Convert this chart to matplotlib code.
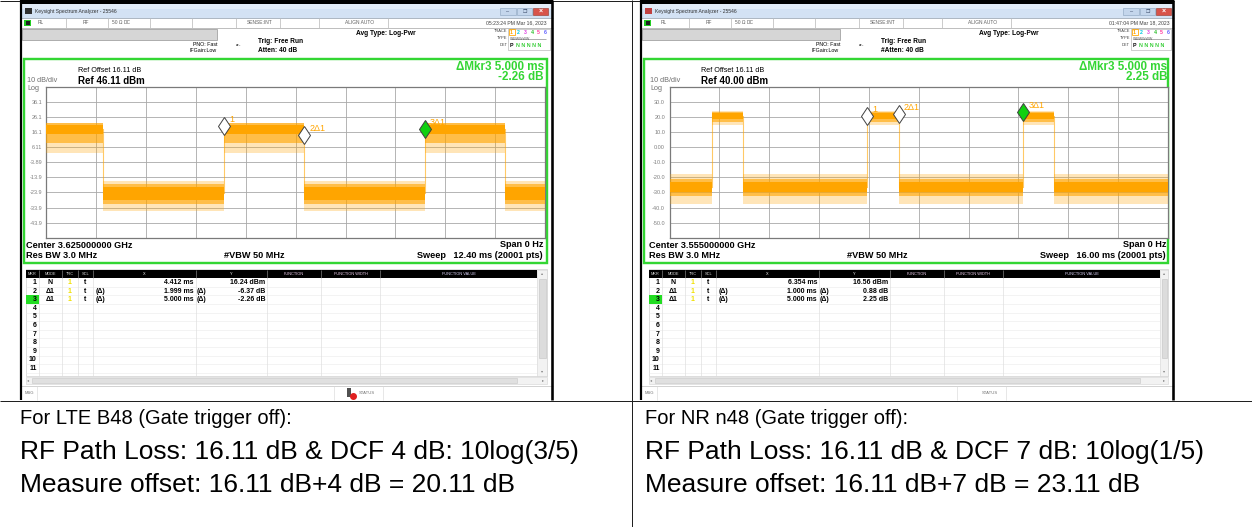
import matplotlib
matplotlib.use("Agg")
import matplotlib.pyplot as plt
from matplotlib.patches import Rectangle
import matplotlib.transforms as mtransforms

plt.rcParams['font.family'] = ['Liberation Sans', 'DejaVu Sans']

W, H, DPI = 1252, 527, 100
ORANGE = '#ffa500'
GREEN = '#33d633'

# ---------------- data ----------------
# LTE B48 capture
lte_ref = 46.11
lte_ytick_labels = ["36.1", "26.1", "16.1", "6.11", "-3.89", "-13.9", "-23.9", "-33.9", "-43.9"]
lte_sweep_ms = 12.40
lte_edges_ms = [0.0, 1.412, 4.412, 6.411, 9.412, 11.412, 12.40]
lte_states = ["H", "L", "H", "L", "H", "L"]
# noise envelopes (dB): dense core, mid band, outer spikes
lte_high_env = [(15.0, 21.0), (9.0, 22.0), (2.0, 22.5)]
lte_low_env = [(-29.0, -20.0), (-31.5, -18.0), (-36.0, -16.5)]
lte_mkr_labels = ["1", "2Δ1", "3Δ1"]
lte_mkr_x_ms = [4.412, 6.411, 9.412]
lte_mkr_y_db = [16.24, 9.87, 13.98]
lte_table = [("1", "N", "", "4.412 ms", "", "16.24 dBm"),
             ("2", "Δ1", "(Δ)", "1.999 ms", "(Δ)", "-6.37 dB"),
             ("3", "Δ1", "(Δ)", "5.000 ms", "(Δ)", "-2.26 dB")]

# NR n48 capture
nr_ref = 40.00
nr_ytick_labels = ["30.0", "20.0", "10.0", "0.00", "-10.0", "-20.0", "-30.0", "-40.0", "-50.0"]
nr_sweep_ms = 16.00
nr_edges_ms = [0.0, 1.354, 2.354, 6.354, 7.354, 11.354, 12.354, 16.0]
nr_states = ["L", "H", "L", "H", "L", "H", "L"]
nr_high_env = [(18.5, 22.8), (16.5, 23.5), (14.5, 24.0)]
nr_low_env = [(-30.0, -23.0), (-32.0, -21.0), (-37.5, -18.0)]
nr_mkr_labels = ["1", "2Δ1", "3Δ1"]
nr_mkr_x_ms = [6.354, 7.354, 11.354]
nr_mkr_y_db = [16.56, 17.44, 18.81]
nr_table = [("1", "N", "", "6.354 ms", "", "16.56 dBm"),
            ("2", "Δ1", "(Δ)", "1.000 ms", "(Δ)", "0.88 dB"),
            ("3", "Δ1", "(Δ)", "5.000 ms", "(Δ)", "2.25 dB")]

lte_notes = ["For LTE B48 (Gate trigger off):",
             "RF Path Loss: 16.11 dB & DCF 4 dB: 10log(3/5)",
             "Measure offset: 16.11 dB+4 dB = 20.11 dB"]
nr_notes = ["For NR n48 (Gate trigger off):",
            "RF Path Loss: 16.11 dB & DCF 7 dB: 10log(1/5)",
            "Measure offset: 16.11 dB+7 dB = 23.11 dB"]

table_headers = ["MKR", "MODE", "TRC", "SCL", "X", "Y", "FUNCTION", "FUNCTION WIDTH", "FUNCTION VALUE"]
trace_nums = ["1", "2", "3", "4", "5", "6"]
trace_cols = ['#ffa500', '#00c8e0', '#e040e0', '#30c030', '#ff40a0', '#6060ff']

# ---------------- figure ----------------
fig = plt.figure(figsize=(W / DPI, H / DPI), dpi=DPI)
bg = fig.add_axes([0, 0, 1, 1])
bg.set_xlim(0, W)
bg.set_ylim(H, 0)
bg.axis('off')

PX = 0.72  # points per pixel


def rect(x0, y0, x1, y1, fc='none', ec='none', lw=0, z=1):
    bg.add_patch(Rectangle((x0, y0), x1 - x0, y1 - y0, facecolor=fc, edgecolor=ec,
                           linewidth=lw * PX, zorder=z))


def line(x0, y0, x1, y1, color='black', lw=1, z=2):
    bg.plot([x0, x1], [y0, y1], color=color, lw=lw * PX, zorder=z, solid_capstyle='butt')


def txt(x, y, s, size, color='black', weight='normal', ha='left', va='center', z=5, **kw):
    bg.text(x, y, s, fontsize=size, color=color, fontweight=weight, ha=ha, va=va, zorder=z, **kw)


def panel(dx, fx0, fx1, ref, ylabels, sweep, edges, states, henv, lenv,
          mlabels, mx, my, table, date, atten, icon_col, center, delta_db, status_icon):
    # screenshot frame
    rect(fx0, 0, fx1, 400, fc='white', z=0)
    # title bar
    rect(fx0, 4, fx1, 17.5, fc='#d3e2f4', z=1)
    rect(fx0, 4, fx1, 9, fc='#e2ecf8', z=1)
    rect(fx0 + 5, 7.5, fx0 + 12, 14, fc=icon_col, z=2)
    txt(fx0 + 15, 11, "Keysight Spectrum Analyzer - 25546", 3.6, color='#303030')
    rect(500 + dx, 8, 516 + dx, 15, fc='#c4d6ec', ec='#8fa6c2', lw=0.6, z=2)
    txt(508 + dx, 11.5, "–", 4, color='#304060', ha='center')
    rect(517 + dx, 8, 532 + dx, 15, fc='#c4d6ec', ec='#8fa6c2', lw=0.6, z=2)
    txt(524.5 + dx, 11.5, "❐", 3.5, color='#304060', ha='center', family='DejaVu Sans')
    rect(533 + dx, 8, 548 + dx, 15, fc='#d8534a', ec='#9a3a30', lw=0.6, z=2)
    txt(540.5 + dx, 11.5, "×", 5, color='white', ha='center', weight='bold')
    # status row
    line(fx0, 17.8, fx1, 17.8, '#9aa6b4', 0.8)
    line(fx0, 27.6, fx1, 27.6, '#b0b0b0', 0.8)
    rect(fx0 + 4, 19.5, fx0 + 11, 26, fc='#22cc22', z=2)
    rect(fx0 + 5.5, 21, fx0 + 9.5, 24.5, fc='#202020', z=3)
    for sx in [66, 108, 150, 192, 236, 280, 319, 388]:
        line(sx + dx, 18, sx + dx, 27.5, '#c0c0c0', 0.8)
    for sx, s in [(38, "RL"), (83, "RF"), (112, "50 Ω"), (124, "DC"), (247, "SENSE:INT"), (345, "ALIGN AUTO")]:
        txt(sx + dx, 23, s, 3.5, color='#606060')
    txt(547 + dx, 23, date, 3.7, color='#404040', ha='right')
    # header area
    rect(fx0 + 2, 28.5, 217 + dx, 39.5, fc='#d6d6d6', ec='#a0a0a0', lw=0.8, z=2)
    txt(193 + dx, 44.5, "PNO: Fast", 3.8)
    txt(189 + dx, 51, "IFGain:Low", 3.8)
    txt(239 + dx, 44.5, "-▸-", 3.2, ha='center', family='DejaVu Sans')
    txt(258 + dx, 41.5, "Trig: Free Run", 4.8, weight='bold')
    txt(258 + dx, 50, atten, 4.8, weight='bold')
    txt(356 + dx, 33.5, "Avg Type: Log-Pwr", 4.8, weight='bold')
    for yy, s in [(30.5, "TRACE"), (38, "TYPE"), (45.5, "DET")]:
        txt(507 + dx, yy, s, 2.9, color='#404040', ha='right')
    rect(508 + dx, 28.5, fx1 - 3, 49.5, ec='#b0b0b0', lw=0.6, z=2)
    rect(508.5 + dx, 29, 514.5 + dx, 35, ec=ORANGE, lw=0.8, z=3)
    for k, (n, c) in enumerate(zip(trace_nums, trace_cols)):
        txt(511.5 + dx + k * 6.8, 32, n, 3.8, color=c, ha='center', weight='bold')
    txt(510 + dx, 38.5, "WWWWWW", 2.6, color='#606060')
    line(510 + dx, 38.5, 546 + dx, 38.5, '#606060', 0.5)
    txt(509.5 + dx, 45.5, "P", 3.8, weight='bold')
    txt(516 + dx, 45.5, "N N N N N", 3.8, color='#30cc30', weight='bold')

    # green display frame
    rect(fx0 + 3.5, 58.5, fx1 - 6, 263, fc='white', ec=GREEN, lw=2.4, z=1)
    txt(78 + dx, 71, "Ref Offset 16.11 dB", 5.2)
    txt(78 + dx, 81, "Ref %.2f dBm" % ref, 7, weight='bold')
    txt(27 + dx, 81, "10 dB/div", 5.2, color='#707070')
    txt(27 + dx, 88, "Log", 5.2, color='#707070')
    txt(544 + dx, 66.5, "ΔMkr3 5.000 ms", 8.4, color=GREEN, weight='bold', ha='right')
    txt(544 + dx, 77.5, delta_db, 8.4, color=GREEN, weight='bold', ha='right')
    txt(26 + dx, 245, "Center " + center, 6.6, weight='bold')
    txt(26 + dx, 255.8, "Res BW 3.0 MHz", 6.6, weight='bold')
    txt(224 + dx, 255.8, "#VBW 50 MHz", 6.6, weight='bold')
    txt(543 + dx, 244.5, "Span 0 Hz", 6.6, weight='bold', ha='right')
    txt(543 + dx, 256, "Sweep   %.2f ms (20001 pts)" % sweep, 6.6, weight='bold', ha='right')

    # trace axes
    ax = fig.add_axes([(46.5 + dx) / W, 1 - 237.7 / H, 498.5 / W, 150.7 / H])
    ax.set_xlim(0, sweep)
    ax.set_ylim(ref - 100, ref)
    ax.set_xticks([sweep * i / 10 for i in range(1, 10)])
    ax.set_yticks([ref - 10 * i for i in range(1, 10)])
    ax.set_yticklabels(ylabels)
    ax.tick_params(axis='x', length=0, labelbottom=False)
    ax.tick_params(axis='y', length=0, pad=3.2, labelsize=4, labelcolor='#808080')
    ax.grid(True, color='#a8a8a8', lw=0.6)
    ax.set_axisbelow(True)
    for sp in ax.spines.values():
        sp.set_color('#7a7a7a')
        sp.set_linewidth(0.9)
    alphas = [1.0, 0.6, 0.28]
    for i, st in enumerate(states):
        t0, t1 = edges[i], edges[i + 1]
        env = henv if st == "H" else lenv
        for (lo, hi), a in zip(env[::-1], alphas[::-1]):
            ax.fill_between([t0, t1], lo, hi, color=ORANGE, alpha=a, lw=0, zorder=3)
    lmid = (lenv[0][0] + lenv[0][1]) / 2
    hmid = (henv[0][0] + henv[0][1]) / 2
    for e in edges[1:-1]:
        ax.plot([e, e], [lmid, hmid], color=ORANGE, alpha=0.6, lw=0.8, zorder=3)
    up = ax.transData + mtransforms.ScaledTranslation(0, 6.5 / DPI, fig.dpi_scale_trans)
    for k, (lab, x, y) in enumerate(zip(mlabels, mx, my)):
        fc = '#10d010' if k == 2 else 'white'
        ax.plot([x], [y], marker='d', ms=9.5, mfc=fc, mec='#404040', mew=0.7,
                transform=up, zorder=6, clip_on=False)
        ax.annotate(lab, (x, y), xytext=(5, 13), textcoords='offset pixels',
                    fontsize=6.5, color=ORANGE, va='center', ha='left', zorder=7)

    # marker table
    cols = [25.5, 38.5, 61.5, 77.5, 93, 196, 267, 321, 380, 537]
    cols = [c + dx for c in cols]
    rect(cols[0], 268.5, fx1 - 6, 376, fc='white', ec='#c8c8c8', lw=0.6, z=1)
    rect(cols[0], 269.5, cols[-1], 277.5, fc='black', z=2)
    hcolors = ['#d8d8d8', '#d8d8d8', '#d8d8d8', '#d8d8d8', 'white', 'white', '#f0d0f0', '#f0d0f0', '#e0d8ff']
    for k, hname in enumerate(table_headers):
        txt((cols[k] + cols[k + 1]) / 2, 273.6, hname, 2.8, color=hcolors[k], ha='center', z=3)
        if k > 0:
            line(cols[k], 269.5, cols[k], 277.5, '#909090', 0.6, z=3)
    row_h = 8.6
    top0 = 278.2
    for r in range(11):
        yc = top0 + row_h * (r + 0.5)
        line(cols[0], top0 + row_h * (r + 1), cols[-1], top0 + row_h * (r + 1), '#ececec', 0.6)
        if r == 2:
            rect(cols[0], top0 + row_h * r, cols[1], top0 + row_h * (r + 1), fc='#22dd22', z=2)
        txt(36.5 + dx, yc, str(r + 1), 5, weight='bold', ha='right')
    for k in range(1, len(cols) - 1):
        line(cols[k], 277.5, cols[k], 376, '#dcdcdc', 0.6)
    for r, (n, mode, xd, xv, yd, yv) in enumerate(table):
        yc = top0 + row_h * (r + 0.5)
        txt(50 + dx, yc, mode, 5, weight='bold', ha='center')
        txt(69.5 + dx, yc, "1", 5, weight='bold', ha='center', color='#f0e000')
        txt(85.5 + dx, yc, "t", 5, weight='bold', ha='center')
        txt(96 + dx, yc, xd, 5, weight='bold')
        txt(194 + dx, yc, xv, 5, weight='bold', ha='right')
        txt(197 + dx, yc, yd, 5, weight='bold')
        txt(265.5 + dx, yc, yv, 5, weight='bold', ha='right')
    # vertical scrollbar
    rect(cols[-1], 269.5, fx1 - 6, 376, fc='#f2f2f2', ec='#d0d0d0', lw=0.5, z=2)
    rect(cols[-1] + 1.5, 279, fx1 - 7.5, 358, fc='#dcdcdc', ec='#c0c0c0', lw=0.5, z=3)
    txt((cols[-1] + fx1 - 6) / 2, 273, "▴", 3, color='#808080', ha='center', family='DejaVu Sans')
    txt((cols[-1] + fx1 - 6) / 2, 371, "▾", 3, color='#808080', ha='center', family='DejaVu Sans')
    # horizontal scrollbar
    rect(cols[0], 376.5, fx1 - 6, 383.5, fc='#f2f2f2', ec='#d0d0d0', lw=0.5, z=2)
    rect(cols[0] + 6, 377.5, 517 + dx, 382.5, fc='#e0e0e0', ec='#c4c4c4', lw=0.5, z=3)
    txt(cols[0] + 3, 380, "◂", 3, color='#808080', ha='center', family='DejaVu Sans')
    txt(fx1 - 10, 380, "▸", 3, color='#808080', ha='center', family='DejaVu Sans')
    # status bar
    line(fx0, 385.5, fx1, 385.5, '#c8c8c8', 0.8)
    txt(fx0 + 5, 393, "MSG", 3, color='#707070')
    line(fx0 + 17, 386, fx0 + 17, 400, '#d8d8d8', 0.6)
    line(334 + dx, 386, 334 + dx, 400, '#d8d8d8', 0.6)
    line(383 + dx, 386, 383 + dx, 400, '#d8d8d8', 0.6)
    if status_icon:
        rect(347 + dx, 388, 351 + dx, 397, fc='#505050', z=2)
        bg.plot([353 + dx], [396], 'o', ms=4, color='#e02020', zorder=3)
    txt(359 + dx, 393, "STATUS", 3, color='#707070')
    # black screenshot border
    line(fx0 + 1, 0, fx0 + 1, 400, 'black', 2.2, z=8)
    line(fx1 - 1.5, 0, fx1 - 1.5, 400, 'black', 2.6, z=8)
    line(fx0, 2, fx1, 2, 'black', 4, z=8)


panel(0, 20, 553, lte_ref, lte_ytick_labels, lte_sweep_ms, lte_edges_ms, lte_states,
      lte_high_env, lte_low_env,
      lte_mkr_labels, lte_mkr_x_ms, lte_mkr_y_db, lte_table,
      "05:23:24 PM Mar 16, 2023", "Atten: 40 dB", '#303030', "3.625000000 GHz", "-2.26 dB", True)
panel(623, 640, 1174, nr_ref, nr_ytick_labels, nr_sweep_ms, nr_edges_ms, nr_states,
      nr_high_env, nr_low_env,
      nr_mkr_labels, nr_mkr_x_ms, nr_mkr_y_db, nr_table,
      "01:47:04 PM Mar 18, 2023", "#Atten: 40 dB", '#c04040', "3.555000000 GHz", "2.25 dB", False)

# document table lines
line(0, 400.5, W, 400.5, '#202020', 1)
line(632, 0, 632, H, '#202020', 1)
line(0, 0.5, 1174, 0.5, '#202020', 1)

note_sizes = [14.5, 19, 19]
for k, s in enumerate(lte_notes):
    txt(20, 418 + 33.5 * k, s, note_sizes[k])
for k, s in enumerate(nr_notes):
    txt(645, 418 + 33.5 * k, s, note_sizes[k])

fig.savefig("out.png", dpi=DPI)
